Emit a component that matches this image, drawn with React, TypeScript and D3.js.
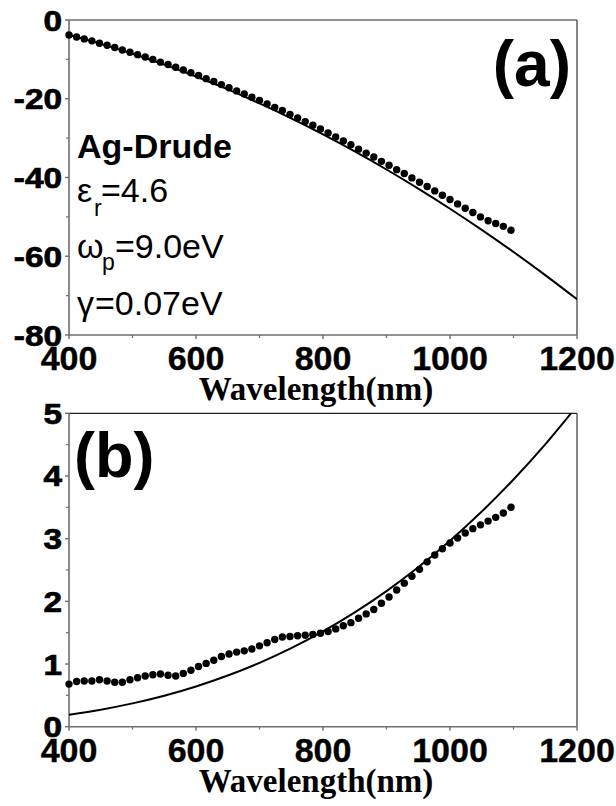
import React from "react";
import * as d3 from "d3";

// Measured Ag permittivity, sampled every 12 nm
const wavelengthsNm = [
  400, 412, 424, 436, 448, 460, 472, 484, 496, 508,
  520, 532, 544, 556, 568, 580, 592, 604, 616, 628,
  640, 652, 664, 676, 688, 700, 712, 724, 736, 748,
  760, 772, 784, 796, 808, 820, 832, 844, 856, 868,
  880, 892, 904, 916, 928, 940, 952, 964, 976, 988,
  1000, 1012, 1024, 1036, 1048, 1060, 1072, 1084, 1096,
];

const epsRealMeasured = [
  -3.8, -4.3, -4.8, -5.3, -5.9, -6.4, -7.0, -7.6, -8.2, -8.8,
  -9.4, -10.0, -10.7, -11.3, -12.0, -12.7, -13.4, -14.1, -14.9, -15.6,
  -16.4, -17.2, -18.0, -18.8, -19.6, -20.4, -21.3, -22.2, -23.0, -24.0,
  -24.9, -25.8, -26.7, -27.7, -28.7, -29.7, -30.7, -31.7, -32.8, -33.8,
  -34.8, -35.9, -36.9, -38.0, -39.0, -40.1, -41.2, -42.3, -43.4, -44.5,
  -45.6, -46.7, -47.8, -48.9, -50.0, -51.0, -51.7, -52.4, -53.4,
];

const epsImagMeasured = [
  0.68, 0.72, 0.73, 0.73, 0.75, 0.73, 0.71, 0.71, 0.75, 0.78,
  0.81, 0.83, 0.84, 0.82, 0.81, 0.85, 0.9, 0.96, 1.01, 1.06,
  1.12, 1.16, 1.19, 1.21, 1.24, 1.29, 1.34, 1.39, 1.43, 1.44,
  1.45, 1.46, 1.47, 1.49, 1.52, 1.56, 1.61, 1.66, 1.73, 1.8,
  1.87, 1.97, 2.07, 2.18, 2.29, 2.4, 2.51, 2.63, 2.74, 2.84,
  2.93, 3.01, 3.09, 3.16, 3.22, 3.28, 3.34, 3.41, 3.5,
];

// Drude model curve (eps_r = 4.6, wp = 9.0 eV, gamma = 0.07 eV)
const modelWavelengths = [
  400, 450, 500, 550, 600, 650, 700, 750, 800, 850, 900, 950, 1000, 1050, 1100, 1150, 1200,
];
const epsRealModel = [
  -3.83, -6.06, -8.56, -11.32, -14.35, -17.63, -21.18, -24.99, -29.05, -33.38,
  -37.97, -42.82, -47.93, -53.29, -58.91, -64.79, -70.93,
];
const epsImagModel = [
  0.19, 0.271, 0.372, 0.494, 0.642, 0.816, 1.019, 1.253, 1.52, 1.823,
  2.163, 2.543, 2.966, 3.432, 3.944, 4.505, 5.117,
];

const xTicks = [400, 600, 800, 1000, 1200];
const xMinorTicks = [500, 700, 900, 1100];
const yTicksA = [0, -20, -40, -60, -80];
const yMinorA = [-10, -30, -50, -70];
const yTicksB = [0, 1, 2, 3, 4, 5];
const yMinorB = [0.5, 1.5, 2.5, 3.5, 4.5];

const W = 616;
const H = 806;
const LEFT = 69;
const RIGHT = 577;

const sans = "'Liberation Sans', Arial, sans-serif";
const serif = "'Liberation Serif', 'Times New Roman', serif";
const axisGray = "#6e6e6e";

type PanelProps = {
  top: number;
  bottom: number;
  domain: [number, number];
  ticks: number[];
  minor: number[];
  measured: number[];
  model: number[];
  id: string;
  children?: React.ReactNode;
};

function Panel({ top, bottom, domain, ticks, minor, measured, model, id, children }: PanelProps) {
  const x = d3.scaleLinear().domain([400, 1200]).range([LEFT, RIGHT]);
  const y = d3.scaleLinear().domain(domain).range([bottom, top]);
  const line = d3
    .line<number>()
    .x((_, i) => x(modelWavelengths[i]))
    .y((d) => y(d))
    .curve(d3.curveCatmullRom);
  const clipId = `clip-${id}`;
  return (
    <g>
      <defs>
        <clipPath id={clipId}>
          <rect x={LEFT} y={top} width={RIGHT - LEFT} height={bottom - top} />
        </clipPath>
      </defs>
      {/* frame: top and right edges */}
      <line x1={LEFT} x2={RIGHT} y1={top} y2={top} stroke="#222" strokeWidth={1.2} />
      <line x1={RIGHT} x2={RIGHT} y1={top} y2={bottom} stroke="#333" strokeWidth={1.2} />
      {/* left and bottom axes */}
      <line x1={LEFT} x2={LEFT} y1={top} y2={bottom} stroke={axisGray} strokeWidth={1.6} />
      <line x1={LEFT} x2={RIGHT} y1={bottom} y2={bottom} stroke={axisGray} strokeWidth={1.6} />
      {ticks.map((t) => (
        <line key={`yt${t}`} x1={LEFT - 4} x2={LEFT} y1={y(t)} y2={y(t)} stroke={axisGray} strokeWidth={1.4} />
      ))}
      {minor.map((t) => (
        <line key={`ym${t}`} x1={LEFT - 3} x2={LEFT} y1={y(t)} y2={y(t)} stroke={axisGray} strokeWidth={1.2} />
      ))}
      {xTicks.map((t) => (
        <line key={`xt${t}`} x1={x(t)} x2={x(t)} y1={bottom} y2={bottom + 4} stroke={axisGray} strokeWidth={1.4} />
      ))}
      {xMinorTicks.map((t) => (
        <line key={`xm${t}`} x1={x(t)} x2={x(t)} y1={bottom} y2={bottom + 3} stroke={axisGray} strokeWidth={1.2} />
      ))}
      {ticks.map((t) => (
        <text
          key={`yl${t}`}
          transform={`translate(${LEFT - 7},${y(t) + 10.5}) scale(1.15,1)`}
          textAnchor="end"
          fontFamily={sans}
          fontWeight="bold"
          fontSize={29}
          fill="#000"
          stroke="#000"
          strokeWidth={0.7}
        >
          {t}
        </text>
      ))}
      {xTicks.map((t) => (
        <text
          key={`xl${t}`}
          x={x(t)}
          y={bottom + 35}
          textAnchor="middle"
          fontFamily={sans}
          fontWeight="bold"
          fontSize={34}
          fill="#000"
          stroke="#000"
          strokeWidth={0.4}
        >
          {t}
        </text>
      ))}
      <text
        x={316}
        y={bottom + 65}
        textAnchor="middle"
        fontFamily={serif}
        fontWeight="bold"
        fontSize={33}
        fill="#000"
      >
        Wavelength(nm)
      </text>
      <g clipPath={`url(#${clipId})`}>
        <path d={line(model) ?? ""} fill="none" stroke="#000" strokeWidth={2} />
      </g>
      {measured.map((v, i) => (
        <circle key={i} cx={x(wavelengthsNm[i])} cy={y(v)} r={3.7} fill="#000" />
      ))}
      {children}
    </g>
  );
}

export default function App() {
  return (
    <svg
      width={W}
      height={H}
      viewBox={`0 0 ${W} ${H}`}
      style={{ position: "absolute", left: 0, top: 0, background: "#fff", display: "block" }}
    >
      <rect x={0} y={0} width={W} height={H} fill="#fff" />
      <Panel
        id="a"
        top={20}
        bottom={335}
        domain={[-80, 0]}
        ticks={yTicksA}
        minor={yMinorA}
        measured={epsRealMeasured}
        model={epsRealModel}
      >
        <text x={571} y={86} textAnchor="end" fontFamily={sans} fontWeight="bold" fontSize={64}>
          (a)
        </text>
        <text x={77} y={158} fontFamily={sans} fontWeight="bold" fontSize={34}>
          Ag-Drude
        </text>
        <text fontFamily={sans} fontSize={34}>
          <tspan x={77} y={202}>ε</tspan>
        </text>
        <text fontFamily={sans} fontSize={23}>
          <tspan x={94} y={216}>r</tspan>
        </text>
        <text fontFamily={sans} fontSize={34}>
          <tspan x={101} y={202}>=4.6</tspan>
        </text>
        <text fontFamily={sans} fontSize={34}>
          <tspan x={77} y={258}>ω</tspan>
        </text>
        <text fontFamily={sans} fontSize={23}>
          <tspan x={102} y={270}>p</tspan>
        </text>
        <text fontFamily={sans} fontSize={34}>
          <tspan x={115} y={258}>=9.0eV</tspan>
        </text>
        <text fontFamily={sans} fontSize={34}>
          <tspan x={77} y={315}>γ</tspan>
        </text>
        <text fontFamily={sans} fontSize={34}>
          <tspan x={95} y={315}>=0.07eV</tspan>
        </text>
      </Panel>
      <Panel
        id="b"
        top={413.3}
        bottom={726.7}
        domain={[0, 5]}
        ticks={yTicksB}
        minor={yMinorB}
        measured={epsImagMeasured}
        model={epsImagModel}
      >
        <text x={74} y={477} fontFamily={sans} fontWeight="bold" fontSize={63}>
          (b)
        </text>
      </Panel>
    </svg>
  );
}
